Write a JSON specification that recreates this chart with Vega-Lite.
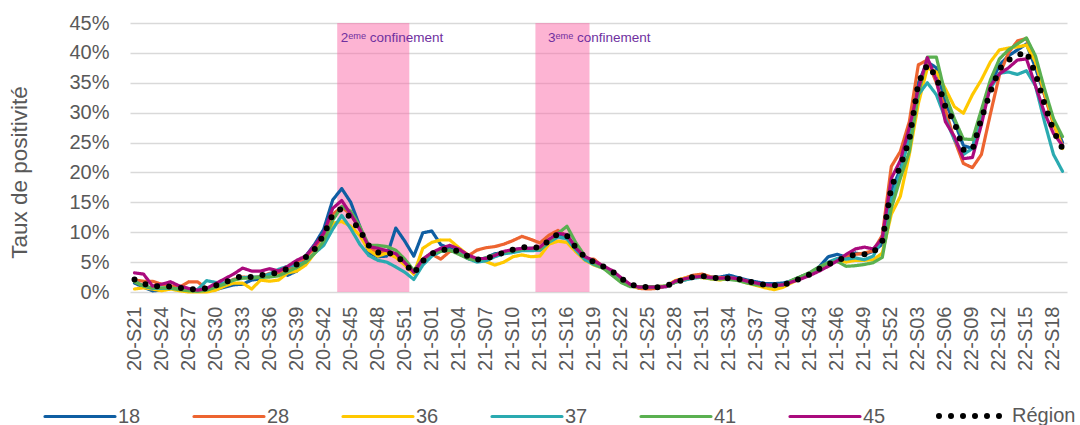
{
"$schema": "https://vega.github.io/schema/vega-lite/v6.json",
"width": 937, "height": 269,
"autosize": {"type": "none"},
"padding": {"left": 130, "top": 23, "right": 13, "bottom": 133},
"background": "white",
"config": {"view": {"stroke": null}, "font": "Liberation Sans",
 "axisY": {"values": [0, 5, 10, 15, 20, 25, 30, 35, 40, 45], "tickCount": 10, "labelExpr": "datum.value + '%'", "labelOverlap": false,
  "grid": true, "gridColor": "#D9D9D9", "gridWidth": 1.5, "domain": false, "ticks": false, "tickSize": 0,
  "labelFontSize": 20, "labelColor": "#595959", "labelPadding": 21,
  "titleFontSize": 22.5, "titleColor": "#595959", "titleFontWeight": "normal", "titleX": -99, "titleY": 149, "titleAngle": 270, "titleBaseline": "bottom", "titleAlign": "center"}},
"layer": [
{
"data": {"values": [{"semaine": "20-S44", "fin": "20-S51"}, {"semaine": "21-S13", "fin": "21-S18"}]},
"mark": {"type": "rect", "color": "#FB6AA8", "opacity": 0.5},
"encoding": {
"x": {"field": "semaine", "type": "ordinal", "sort": "ascending", "bandPosition": 0,
 "scale": {"type": "band", "paddingInner": 0, "paddingOuter": 0},
 "axis": {"title": null, "values": ["20-S21","20-S24","20-S27","20-S30","20-S33","20-S36","20-S39","20-S42","20-S45","20-S48","20-S51","21-S01","21-S04","21-S07","21-S10","21-S13","21-S16","21-S19","21-S22","21-S25","21-S28","21-S31","21-S34","21-S37","21-S40","21-S43","21-S46","21-S49","21-S52","22-S03","22-S06","22-S09","22-S12","22-S15","22-S18"],
  "labelAngle": 270, "labelFontSize": 20, "labelColor": "#595959", "labelPadding": 14, "ticks": false, "tickSize": 0, "domain": false, "grid": false}},
"x2": {"field": "fin", "bandPosition": 1},
"y": {"datum": 0, "type": "quantitative", "scale": {"domain": [0, 45], "nice": false},
 "axis": {"title": "Taux de positivité", "values": [0, 5, 10, 15, 20, 25, 30, 35, 40, 45], "tickCount": 10}},
"y2": {"datum": 45}
}
},
{
"data": {"values": [{"semaine": "20-S44", "label": "2ᵉᵐᵉ confinement"}, {"semaine": "21-S14", "label": "3ᵉᵐᵉ confinement"}]},
"mark": {"type": "text", "align": "left", "baseline": "alphabetic", "dx": -1, "dy": 19, "fontSize": 13.5, "font": "Liberation Sans", "color": "#7030A0"},
"encoding": {
"x": {"field": "semaine", "type": "ordinal", "sort": "ascending", "bandPosition": 0.5},
"y": {"datum": 45, "type": "quantitative", "axis": {"title": "Taux de positivité", "values": [0, 5, 10, 15, 20, 25, 30, 35, 40, 45], "tickCount": 10}},
"text": {"field": "label"}
}
},
{
"data": {"values": [
{"semaine":"20-S21","18":1.5,"28":2.0,"36":0.5,"37":1.8,"41":1.7,"45":3.2,"Région":2.1},
{"semaine":"20-S22","18":0.8,"28":1.8,"36":0.7,"37":1.0,"41":1.0,"45":3.0,"Région":1.4},
{"semaine":"20-S23","18":0.2,"28":1.8,"36":0.5,"37":0.6,"41":0.7,"45":1.0,"Région":0.9},
{"semaine":"20-S24","18":0.3,"28":1.3,"36":0.2,"37":0.6,"41":0.7,"45":1.3,"Région":1.0},
{"semaine":"20-S25","18":0.8,"28":1.0,"36":0.5,"37":0.6,"41":0.7,"45":1.7,"Région":0.9},
{"semaine":"20-S26","18":0.5,"28":0.8,"36":0.2,"37":0.5,"41":0.4,"45":1.0,"Région":0.7},
{"semaine":"20-S27","18":0.3,"28":1.7,"36":0.0,"37":0.3,"41":0.2,"45":0.6,"Région":0.5},
{"semaine":"20-S28","18":0.1,"28":1.7,"36":0.0,"37":0.4,"41":0.1,"45":0.3,"Région":0.45},
{"semaine":"20-S29","18":0.1,"28":0.6,"36":0.0,"37":1.9,"41":0.3,"45":0.6,"Région":0.6},
{"semaine":"20-S30","18":0.4,"28":0.9,"36":0.3,"37":1.6,"41":0.8,"45":1.4,"Région":1.1},
{"semaine":"20-S31","18":0.8,"28":1.5,"36":1.0,"37":1.5,"41":1.3,"45":2.2,"Région":1.6},
{"semaine":"20-S32","18":1.2,"28":2.1,"36":1.5,"37":2.0,"41":2.0,"45":3.0,"Région":2.2},
{"semaine":"20-S33","18":1.3,"28":2.5,"36":1.5,"37":2.4,"41":2.3,"45":4.0,"Région":2.7},
{"semaine":"20-S34","18":2.0,"28":2.4,"36":0.5,"37":2.5,"41":2.3,"45":3.5,"Région":2.5},
{"semaine":"20-S35","18":2.2,"28":2.6,"36":2.0,"37":2.5,"41":2.5,"45":3.5,"Région":2.8},
{"semaine":"20-S36","18":3.0,"28":3.1,"36":1.8,"37":3.0,"41":2.5,"45":3.9,"Région":3.0},
{"semaine":"20-S37","18":3.5,"28":3.2,"36":2.0,"37":3.8,"41":2.7,"45":3.5,"Région":3.3},
{"semaine":"20-S38","18":2.8,"28":3.8,"36":3.2,"37":4.3,"41":3.4,"45":4.3,"Région":3.9},
{"semaine":"20-S39","18":3.5,"28":4.7,"36":3.5,"37":4.5,"41":4.1,"45":5.3,"Région":4.6},
{"semaine":"20-S40","18":6.0,"28":5.8,"36":4.5,"37":5.0,"41":5.0,"45":6.0,"Région":5.8},
{"semaine":"20-S41","18":8.0,"28":7.3,"36":6.5,"37":6.5,"41":6.5,"45":7.8,"Région":7.2},
{"semaine":"20-S42","18":10.5,"28":9.5,"36":8.0,"37":7.8,"41":8.5,"45":9.8,"Région":9.5},
{"semaine":"20-S43","18":15.4,"28":13.0,"36":11.5,"37":10.5,"41":12.0,"45":14.0,"Région":13.0},
{"semaine":"20-S44","18":17.3,"28":14.2,"36":11.8,"37":12.8,"41":14.3,"45":15.3,"Région":14.0},
{"semaine":"20-S45","18":15.0,"28":13.0,"36":11.0,"37":10.6,"41":13.5,"45":13.0,"Région":12.4},
{"semaine":"20-S46","18":11.0,"28":10.5,"36":9.5,"37":8.0,"41":11.0,"45":10.5,"Région":10.3},
{"semaine":"20-S47","18":6.6,"28":7.5,"36":7.0,"37":6.1,"41":7.8,"45":7.6,"Région":7.8},
{"semaine":"20-S48","18":5.9,"28":6.6,"36":6.0,"37":5.3,"41":7.8,"45":7.3,"Région":6.6},
{"semaine":"20-S49","18":6.0,"28":6.6,"36":6.5,"37":5.0,"41":7.6,"45":6.9,"Région":6.6},
{"semaine":"20-S50","18":10.7,"28":6.2,"36":5.8,"37":4.2,"41":7.0,"45":6.4,"Région":6.2},
{"semaine":"20-S51","18":8.5,"28":4.8,"36":4.5,"37":3.3,"41":5.5,"45":4.9,"Région":4.8},
{"semaine":"20-S52","18":6.0,"28":3.0,"36":3.0,"37":2.1,"41":3.6,"45":3.3,"Région":3.1},
{"semaine":"20-S53","18":9.9,"28":5.2,"36":7.3,"37":4.5,"41":5.5,"45":5.5,"Région":5.2},
{"semaine":"21-S01","18":10.2,"28":6.3,"36":8.3,"37":6.0,"41":6.5,"45":6.6,"Région":6.4},
{"semaine":"21-S02","18":7.9,"28":5.5,"36":8.7,"37":6.8,"41":6.8,"45":7.3,"Région":7.0},
{"semaine":"21-S03","18":7.3,"28":6.8,"36":8.7,"37":7.0,"41":7.0,"45":7.8,"Région":7.2},
{"semaine":"21-S04","18":6.6,"28":6.8,"36":7.4,"37":6.5,"41":6.3,"45":7.2,"Région":6.8},
{"semaine":"21-S05","18":5.6,"28":6.0,"36":6.2,"37":5.6,"41":5.6,"45":6.2,"Région":6.0},
{"semaine":"21-S06","18":5.3,"28":7.0,"36":5.3,"37":5.0,"41":5.3,"45":5.6,"Région":5.4},
{"semaine":"21-S07","18":5.7,"28":7.4,"36":5.1,"37":5.2,"41":5.7,"45":5.6,"Région":5.6},
{"semaine":"21-S08","18":6.4,"28":7.6,"36":4.5,"37":5.9,"41":6.2,"45":6.1,"Région":6.1},
{"semaine":"21-S09","18":6.6,"28":8.0,"36":5.0,"37":6.4,"41":6.7,"45":6.8,"Région":6.6},
{"semaine":"21-S10","18":7.0,"28":8.6,"36":5.9,"37":6.6,"41":6.9,"45":7.1,"Région":7.1},
{"semaine":"21-S11","18":7.3,"28":9.3,"36":6.2,"37":6.9,"41":7.2,"45":7.3,"Région":7.5},
{"semaine":"21-S12","18":7.3,"28":8.8,"36":5.9,"37":6.9,"41":7.3,"45":7.3,"Région":7.5},
{"semaine":"21-S13","18":7.0,"28":8.2,"36":6.0,"37":7.0,"41":7.2,"45":7.5,"Région":7.4},
{"semaine":"21-S14","18":8.3,"28":9.5,"36":8.0,"37":8.3,"41":8.5,"45":8.8,"Région":8.6},
{"semaine":"21-S15","18":9.4,"28":10.3,"36":8.5,"37":9.2,"41":9.8,"45":9.8,"Région":9.7},
{"semaine":"21-S16","18":9.3,"28":9.3,"36":8.3,"37":8.9,"41":11.0,"45":9.6,"Région":9.4},
{"semaine":"21-S17","18":7.5,"28":6.8,"36":6.7,"37":7.0,"41":8.2,"45":7.3,"Région":7.4},
{"semaine":"21-S18","18":5.8,"28":5.5,"36":5.3,"37":5.4,"41":6.0,"45":5.9,"Région":5.8},
{"semaine":"21-S19","18":4.8,"28":5.5,"36":4.5,"37":4.6,"41":4.8,"45":5.2,"Région":5.0},
{"semaine":"21-S20","18":4.3,"28":4.2,"36":4.0,"37":4.0,"41":4.0,"45":4.4,"Région":4.3},
{"semaine":"21-S21","18":3.3,"28":3.3,"36":3.2,"37":3.4,"41":2.8,"45":3.6,"Région":3.5},
{"semaine":"21-S22","18":2.1,"28":2.2,"36":2.0,"37":2.3,"41":1.6,"45":2.4,"Région":2.3},
{"semaine":"21-S23","18":1.2,"28":1.2,"36":1.1,"37":1.2,"41":0.9,"45":1.3,"Région":1.3},
{"semaine":"21-S24","18":0.8,"28":0.6,"36":0.7,"37":0.8,"41":0.9,"45":0.8,"Région":0.9},
{"semaine":"21-S25","18":0.7,"28":0.5,"36":0.8,"37":0.8,"41":0.9,"45":0.8,"Région":0.8},
{"semaine":"21-S26","18":0.8,"28":0.6,"36":0.9,"37":0.8,"41":0.9,"45":0.8,"Région":0.8},
{"semaine":"21-S27","18":0.9,"28":1.0,"36":1.0,"37":1.0,"41":1.0,"45":0.9,"Région":1.0},
{"semaine":"21-S28","18":1.7,"28":1.8,"36":1.9,"37":1.6,"41":1.6,"45":1.8,"Région":1.6},
{"semaine":"21-S29","18":2.0,"28":2.3,"36":2.3,"37":2.0,"41":2.1,"45":2.2,"Région":2.1},
{"semaine":"21-S30","18":2.4,"28":2.8,"36":2.5,"37":2.3,"41":2.5,"45":2.5,"Région":2.5},
{"semaine":"21-S31","18":2.6,"28":3.0,"36":2.4,"37":2.5,"41":2.5,"45":2.6,"Région":2.7},
{"semaine":"21-S32","18":2.5,"28":2.5,"36":2.2,"37":2.3,"41":2.2,"45":2.4,"Région":2.4},
{"semaine":"21-S33","18":2.5,"28":2.4,"36":2.0,"37":2.2,"41":2.2,"45":2.3,"Région":2.3},
{"semaine":"21-S34","18":2.8,"28":2.4,"36":2.3,"37":2.4,"41":2.1,"45":2.4,"Région":2.3},
{"semaine":"21-S35","18":2.4,"28":2.2,"36":2.0,"37":2.1,"41":1.9,"45":2.2,"Région":2.2},
{"semaine":"21-S36","18":2.0,"28":1.8,"36":1.5,"37":1.6,"41":1.5,"45":1.8,"Région":1.8},
{"semaine":"21-S37","18":1.7,"28":1.4,"36":1.1,"37":1.3,"41":1.2,"45":1.5,"Région":1.5},
{"semaine":"21-S38","18":1.4,"28":1.0,"36":0.7,"37":1.1,"41":1.1,"45":1.2,"Région":1.2},
{"semaine":"21-S39","18":1.4,"28":0.9,"36":0.4,"37":1.0,"41":1.0,"45":1.1,"Région":1.1},
{"semaine":"21-S40","18":1.5,"28":1.1,"36":0.8,"37":1.2,"41":1.2,"45":1.2,"Région":1.2},
{"semaine":"21-S41","18":1.9,"28":1.8,"36":1.6,"37":1.9,"41":2.0,"45":1.7,"Région":1.7},
{"semaine":"21-S42","18":2.5,"28":2.6,"36":2.3,"37":2.6,"41":2.6,"45":2.2,"Région":2.3},
{"semaine":"21-S43","18":3.2,"28":3.1,"36":3.0,"37":3.2,"41":3.3,"45":2.8,"Région":3.0},
{"semaine":"21-S44","18":4.2,"28":4.0,"36":3.8,"37":4.1,"41":4.2,"45":3.5,"Région":3.9},
{"semaine":"21-S45","18":5.9,"28":4.8,"36":4.6,"37":5.0,"41":4.9,"45":4.3,"Région":4.6},
{"semaine":"21-S46","18":6.3,"28":5.5,"36":5.4,"37":5.6,"41":5.1,"45":5.2,"Région":5.3},
{"semaine":"21-S47","18":5.8,"28":6.0,"36":5.0,"37":5.5,"41":4.3,"45":6.3,"Région":5.8},
{"semaine":"21-S48","18":6.5,"28":6.3,"36":5.3,"37":5.7,"41":4.4,"45":7.2,"Région":6.3},
{"semaine":"21-S49","18":6.3,"28":6.5,"36":5.3,"37":5.4,"41":4.6,"45":7.5,"Région":6.3},
{"semaine":"21-S50","18":6.8,"28":6.9,"36":5.4,"37":6.0,"41":4.9,"45":7.2,"Région":6.6},
{"semaine":"21-S51","18":8.0,"28":9.5,"36":6.5,"37":9.0,"41":5.8,"45":9.0,"Région":8.5},
{"semaine":"21-S52","18":17.0,"28":21.0,"36":13.0,"37":15.5,"41":14.0,"45":19.0,"Région":17.5},
{"semaine":"22-S01","18":20.5,"28":23.5,"36":16.0,"37":20.0,"41":19.0,"45":22.0,"Région":21.0},
{"semaine":"22-S02","18":26.0,"28":28.5,"36":23.0,"37":26.0,"41":23.5,"45":27.5,"Région":25.5},
{"semaine":"22-S03","18":35.0,"28":38.0,"36":31.5,"37":33.0,"41":33.0,"45":34.0,"Région":35.0},
{"semaine":"22-S04","18":38.5,"28":38.8,"36":37.5,"37":35.0,"41":39.3,"45":39.2,"Région":38.0},
{"semaine":"22-S05","18":37.5,"28":35.0,"36":36.8,"37":33.0,"41":39.3,"45":35.5,"Région":36.0},
{"semaine":"22-S06","18":31.5,"28":30.5,"36":34.0,"37":29.0,"41":33.0,"45":28.5,"Région":31.0},
{"semaine":"22-S07","18":28.5,"28":25.5,"36":31.0,"37":25.5,"41":29.0,"45":26.0,"Région":28.4},
{"semaine":"22-S08","18":24.5,"28":21.5,"36":29.9,"37":23.0,"41":25.6,"45":22.3,"Région":23.8},
{"semaine":"22-S09","18":24.0,"28":20.8,"36":33.0,"37":24.0,"41":25.5,"45":22.5,"Région":23.8},
{"semaine":"22-S10","18":30.0,"28":23.0,"36":35.5,"37":30.0,"41":30.5,"45":28.0,"Région":29.0},
{"semaine":"22-S11","18":34.5,"28":29.8,"36":38.5,"37":34.0,"41":35.5,"45":34.5,"Région":33.5},
{"semaine":"22-S12","18":38.0,"28":36.3,"36":40.5,"37":36.6,"41":39.0,"45":36.5,"Région":37.3},
{"semaine":"22-S13","18":39.5,"28":40.0,"36":40.8,"37":36.8,"41":40.5,"45":37.5,"Région":38.8},
{"semaine":"22-S14","18":40.5,"28":42.0,"36":41.0,"37":36.4,"41":41.5,"45":38.8,"Région":39.6},
{"semaine":"22-S15","18":41.5,"28":42.4,"36":41.3,"37":37.0,"41":42.5,"45":39.0,"Région":40.2},
{"semaine":"22-S16","18":37.5,"28":38.5,"36":38.5,"37":34.5,"41":39.5,"45":34.5,"Région":36.5},
{"semaine":"22-S17","18":33.0,"28":33.0,"36":33.5,"37":28.5,"41":34.0,"45":30.0,"Région":31.5},
{"semaine":"22-S18","18":28.5,"28":28.0,"36":28.5,"37":23.0,"41":29.0,"45":26.5,"Région":27.0},
{"semaine":"22-S19","18":25.0,"28":24.5,"36":24.0,"37":20.2,"41":26.0,"45":24.5,"Région":24.0}
]},
"transform": [{"fold": ["18", "28", "36", "37", "41", "45", "Région"], "as": ["serie", "taux"]}],
"mark": {"type": "line", "strokeCap": "round", "strokeJoin": "round"},
"encoding": {
"x": {"field": "semaine", "type": "ordinal", "sort": "ascending", "bandPosition": 0.5},
"y": {"field": "taux", "type": "quantitative", "axis": {"title": "Taux de positivité", "values": [0, 5, 10, 15, 20, 25, 30, 35, 40, 45], "tickCount": 10}},
"color": {"field": "serie", "type": "nominal",
 "scale": {"domain": ["18", "28", "36", "37", "41", "45", "Région"], "range": ["#0F5EA2", "#ED6430", "#FFC800", "#2AAAB0", "#5AB050", "#AA0A7D", "#000000"]},
 "legend": {"orient": "none", "legendX": -88, "legendY": 355, "direction": "horizontal", "columns": 7, "gridAlign": "all", "title": null, "symbolType": "stroke", "symbolSize": 4900, "labelFontSize": 20, "labelColor": "#595959", "labelOffset": 0, "columnPadding": 0, "encode": {"symbols": {"update": {"strokeCap": {"value": "round"}}}}}},
"strokeDash": {"field": "serie", "type": "nominal",
 "scale": {"domain": ["18", "28", "36", "37", "41", "45", "Région"], "range": [[1, 0], [1, 0], [1, 0], [1, 0], [1, 0], [1, 0], [0, 12]]},
 "legend": {"orient": "none", "legendX": -88, "legendY": 355, "direction": "horizontal", "columns": 7, "gridAlign": "all", "title": null, "symbolType": "stroke", "symbolSize": 4900, "labelFontSize": 20, "labelColor": "#595959", "labelOffset": 0, "columnPadding": 0, "encode": {"symbols": {"update": {"strokeCap": {"value": "round"}}}}}},
"strokeWidth": {"field": "serie", "type": "nominal",
 "scale": {"type": "ordinal", "domain": ["18", "28", "36", "37", "41", "45", "Région"], "range": [3.2, 3.2, 3.2, 3.2, 3.2, 3.2, 6]},
 "legend": {"orient": "none", "legendX": -88, "legendY": 355, "direction": "horizontal", "columns": 7, "gridAlign": "all", "title": null, "symbolType": "stroke", "symbolSize": 4900, "labelFontSize": 20, "labelColor": "#595959", "labelOffset": 0, "columnPadding": 0, "encode": {"symbols": {"update": {"strokeCap": {"value": "round"}}}}}}
}
}
]
}
